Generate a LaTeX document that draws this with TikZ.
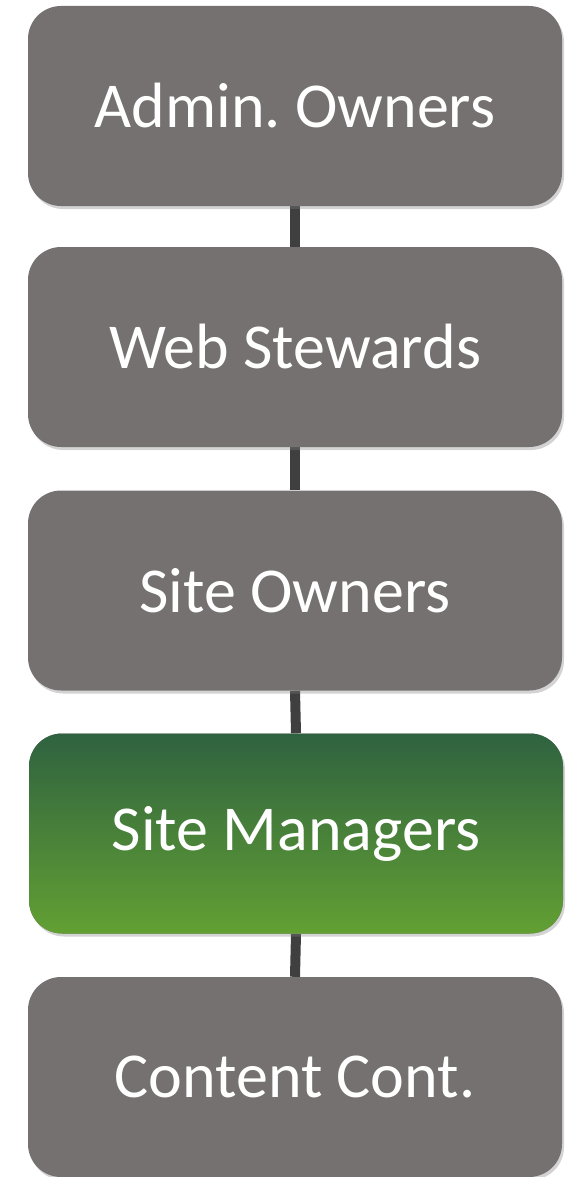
\documentclass[tikz,border=0pt]{standalone}
\usepackage{fontspec}
\setmainfont{Carlito}
\usetikzlibrary{shadows,backgrounds}
\definecolor{boxgray}{HTML}{767171}
\definecolor{linkgray}{HTML}{3F3F3F}
\definecolor{greentop}{HTML}{2F6240}
\definecolor{greenbot}{HTML}{62A033}
\tikzset{
  level/.style={draw=none, fill=boxgray, rounded corners=33pt,
    minimum width=534pt, minimum height=200pt, inner sep=0pt,
    text=white, font=\frenchspacing\fontsize{64}{76}\selectfont,
    drop shadow={opacity=0.35, shadow xshift=2pt, shadow yshift=-3pt}},
  greenlevel/.style={level, top color=greentop, bottom color=greenbot},
  link/.style={draw=linkgray, line width=10pt}
}
\begin{document}
\begin{tikzpicture}[x=1pt, y=-1pt]
\useasboundingbox (0,0) rectangle (572,1177);
\node[level] (a) at (295,106) {Admin. Owners};
\node[level] (b) at (295,347) {Web Stewards};
\node[level] (c) at (295,590.5) {Site Owners};
\node[greenlevel] (d) at (296,833.5) {Site Managers};
\node[level] (e) at (295,1077) {Content Cont.};
\begin{scope}[on background layer]
\draw[link] (a.south) -- (b.north);
\draw[link] (b.south) -- (c.north);
\draw[link] (c.south) -- (d.north);
\draw[link] (d.south) -- (e.north);
\end{scope}
\end{tikzpicture}
\end{document}
